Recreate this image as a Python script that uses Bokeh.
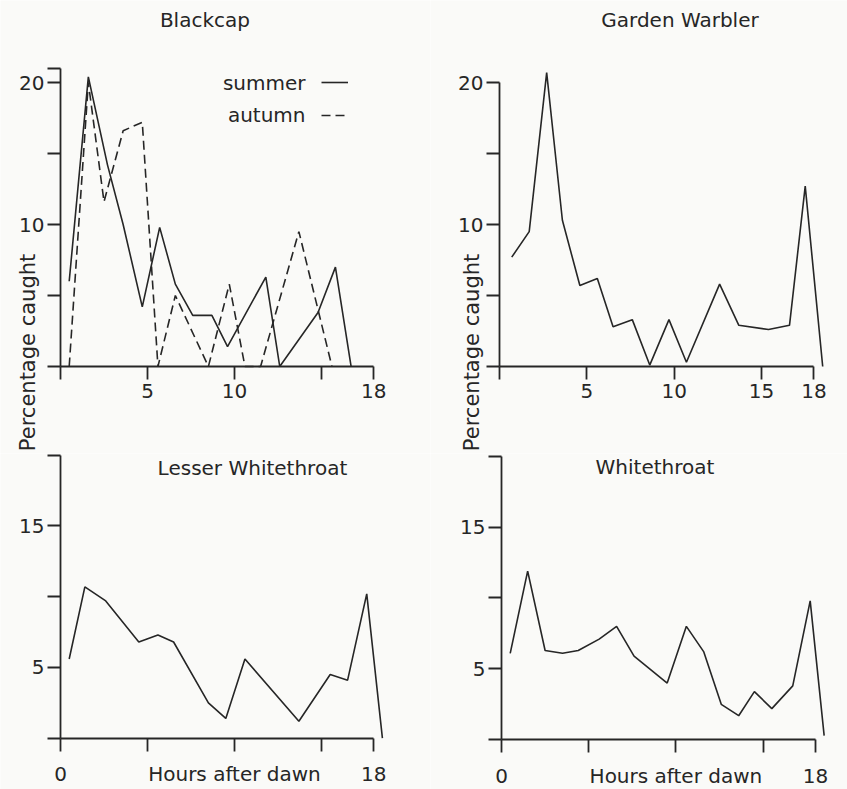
import math
from bokeh.plotting import figure
from bokeh.models import Label, Legend, LegendItem, FixedTicker, Range1d
from bokeh.layouts import column, row
from bokeh.embed import file_html
from bokeh.resources import INLINE

# ---------------- data (hours after dawn, percentage caught) ----------------
blackcap_summer_hours = [0.5, 1.6, 2.7, 3.6, 4.7, 5.7, 6.6, 7.6, 8.7, 9.6, 11.8, 12.6, 14.8, 15.8, 16.7]
blackcap_summer_pct = [6.0, 20.4, 14.2, 10.0, 4.2, 9.8, 5.8, 3.6, 3.6, 1.4, 6.3, 0.0, 3.8, 7.0, 0.0]

blackcap_autumn_hours = [0.5, 1.6, 2.5, 3.6, 4.7, 5.6, 6.6, 8.5, 9.7, 10.6, 11.5, 13.7, 15.6]
blackcap_autumn_pct = [0.0, 20.0, 11.6, 16.6, 17.2, 0.0, 5.0, 0.0, 5.8, 0.0, 0.0, 9.5, 0.0]

garden_warbler_hours = [0.7, 1.7, 2.7, 3.6, 4.6, 5.6, 6.5, 7.6, 8.6, 9.7, 10.7, 12.6, 13.7, 15.4, 16.6, 17.5, 18.5]
garden_warbler_pct = [7.7, 9.5, 20.7, 10.3, 5.7, 6.2, 2.8, 3.3, 0.1, 3.3, 0.3, 5.8, 2.9, 2.6, 2.9, 12.7, 0.0]

lesser_whitethroat_hours = [0.5, 1.4, 2.6, 4.5, 5.6, 6.5, 8.5, 9.5, 10.6, 13.7, 15.5, 16.5, 17.6, 18.5]
lesser_whitethroat_pct = [5.6, 10.7, 9.7, 6.8, 7.3, 6.8, 2.5, 1.4, 5.6, 1.2, 4.5, 4.1, 10.2, 0.0]

whitethroat_hours = [0.5, 1.5, 2.5, 3.5, 4.4, 5.6, 6.6, 7.6, 9.5, 10.6, 11.6, 12.6, 13.6, 14.5, 15.5, 16.7, 17.7, 18.5]
whitethroat_pct = [6.1, 11.9, 6.3, 6.1, 6.3, 7.1, 8.0, 5.9, 4.0, 8.0, 6.2, 2.5, 1.7, 3.4, 2.2, 3.8, 9.8, 0.3]

x_ticks = [0, 5, 10, 15, 18]
top_left_x_labels = {0: "", 5: "5", 10: "10", 15: "", 18: "18"}
top_right_x_labels = {0: "", 5: "5", 10: "10", 15: "15", 18: "18"}
bottom_x_labels = {0: "0", 5: "", 10: "Hours after dawn", 15: "", 18: "18"}

top_left_y_ticks = [0, 5, 10, 15, 20, 21]
top_left_y_labels = {0: "", 5: "", 10: "10", 15: "", 20: "20", 21: ""}
top_right_y_ticks = [0, 5, 10, 15, 20]
top_right_y_labels = {0: "", 5: "", 10: "10", 15: "", 20: "20"}
bottom_y_ticks = [0, 5, 10, 15, 20]
bottom_y_labels = {0: "", 5: "5", 10: "", 15: "15", 20: ""}

# ---------------- styling ----------------
FONT = "DejaVu Sans"
INK = "#262626"
BG = "#fafaf8"
FS = "20px"
LW = 1.6


def make_fig(width, height, xr, yr):
    # the frame fills the whole canvas; axes are pinned at x=0 / y=0
    p = figure(width=width, height=height,
               x_range=Range1d(*xr), y_range=Range1d(*yr),
               output_backend="svg", toolbar_location=None,
               min_border_left=0, min_border_right=0,
               min_border_top=0, min_border_bottom=0)
    p.background_fill_color = BG
    p.border_fill_color = BG
    p.outline_line_color = None
    p.xgrid.visible = False
    p.ygrid.visible = False
    for ax in (p.xaxis[0], p.yaxis[0]):
        ax.fixed_location = 0
        ax.axis_line_color = INK
        ax.axis_line_width = 1.8
        ax.major_tick_line_color = INK
        ax.major_tick_line_width = 1.8
        ax.major_tick_out = 13
        ax.major_tick_in = 0
        ax.minor_tick_line_color = None
        ax.major_label_text_font = FONT
        ax.major_label_text_font_size = FS
        ax.major_label_text_color = INK
    p.yaxis[0].major_label_standoff = 3
    return p


def add_text(p, x, y, text, angle=0.0, align="center", size=FS):
    p.add_layout(Label(x=x, y=y, text=text, text_align=align, text_baseline="middle",
                       text_font=FONT, text_font_size=size, text_color=INK, angle=angle))


def set_axes(p, xlabels, ylabels, yticks, ybounds, xstandoff):
    p.xaxis[0].ticker = FixedTicker(ticks=x_ticks)
    p.xaxis[0].major_label_overrides = xlabels
    p.xaxis[0].bounds = (0, 18)
    p.xaxis[0].major_label_standoff = xstandoff
    p.yaxis[0].ticker = FixedTicker(ticks=yticks)
    p.yaxis[0].major_label_overrides = ylabels
    p.yaxis[0].bounds = ybounds


# ---- Blackcap (top left) ----
p1 = make_fig(430, 453, (-3.448, 21.264), (-6.127, 25.775))
set_axes(p1, top_left_x_labels, top_left_y_labels, top_left_y_ticks, (0, 21), 5)
r_s = p1.line(blackcap_summer_hours, blackcap_summer_pct, line_color=INK, line_width=LW)
r_a = p1.line(blackcap_autumn_hours, blackcap_autumn_pct, line_color=INK, line_width=LW, line_dash="9 5")
legend = Legend(items=[LegendItem(label=" ", renderers=[r_s]),
                       LegendItem(label=" ", renderers=[r_a])],
                location=(321, 328), orientation="vertical",
                glyph_width=27, glyph_height=20, label_height=20, label_width=0,
                label_standoff=0, spacing=13, padding=0, margin=0,
                border_line_color=None, background_fill_alpha=0,
                label_text_font=FONT, label_text_font_size=FS, label_text_color=INK)
p1.add_layout(legend)
add_text(p1, 14.08, 20.0, "summer", align="right")
add_text(p1, 14.08, 17.68, "autumn", align="right")
add_text(p1, 8.3, 24.37, "Blackcap")
add_text(p1, -1.84, 0.99, "Percentage caught", angle=math.pi / 2, size="21px")

# ---- Garden Warbler (top right) ----
p2 = make_fig(417, 453, (-3.950, 19.920), (-6.127, 25.775))
set_axes(p2, top_right_x_labels, top_right_y_labels, top_right_y_ticks, (0, 20), 5)
p2.line(garden_warbler_hours, garden_warbler_pct, line_color=INK, line_width=LW)
add_text(p2, 10.33, 24.37, "Garden Warbler")
add_text(p2, -1.55, 0.99, "Percentage caught", angle=math.pi / 2, size="21px")

# ---- Lesser Whitethroat (bottom left) ----
p3 = make_fig(430, 336, (-3.448, 21.264), (-3.625, 20.12))
set_axes(p3, bottom_x_labels, bottom_y_labels, bottom_y_ticks, (0, 20), 11)
p3.line(lesser_whitethroat_hours, lesser_whitethroat_pct, line_color=INK, line_width=LW)
add_text(p3, 11.03, 19.08, "Lesser Whitethroat")

# ---- Whitethroat (bottom right) ----
p4 = make_fig(417, 336, (-4.071, 19.839), (-3.505, 20.19))
set_axes(p4, bottom_x_labels, bottom_y_labels, bottom_y_ticks, (0, 20), 11)
p4.line(whitethroat_hours, whitethroat_pct, line_color=INK, line_width=LW)
add_text(p4, 8.8, 19.22, "Whitethroat")

layout = column(row(p1, p2, spacing=0), row(p3, p4, spacing=0), spacing=0)

with open("out.html", "w") as f:
    f.write(file_html(layout, INLINE))
